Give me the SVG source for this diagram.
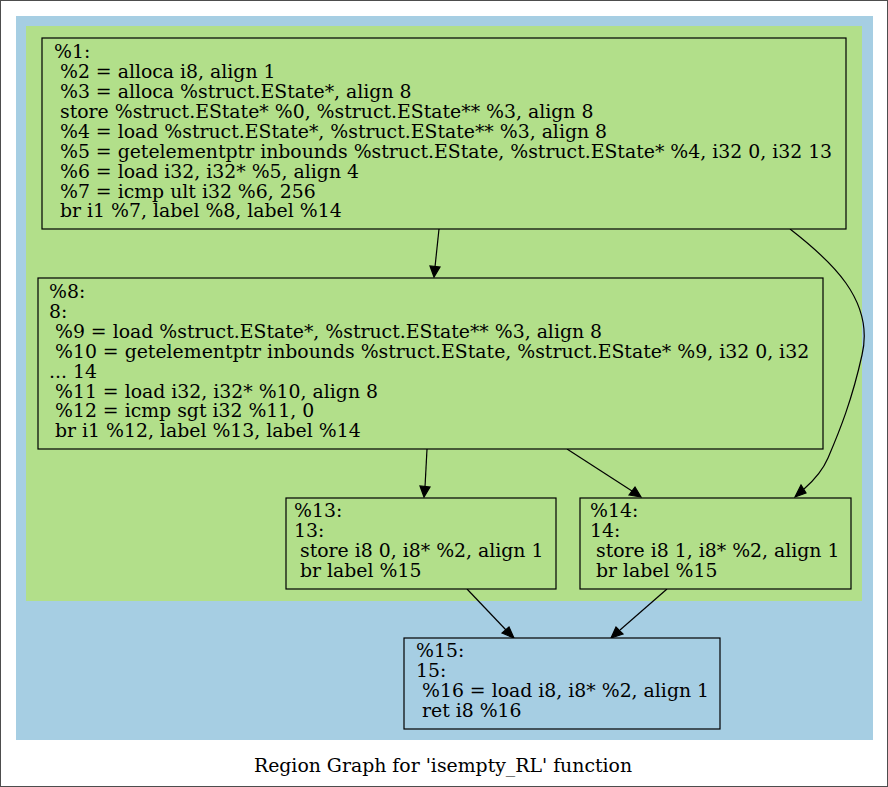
<svg xmlns="http://www.w3.org/2000/svg" width="888" height="787" viewBox="0 0 888 787">
<style>
text{font-family:"DejaVu Serif","Liberation Serif",serif;font-size:18.85px;fill:#000;white-space:pre}
.node rect{stroke:#000;stroke-width:1.2}
.g rect{fill:#b2df8a}
.b rect{fill:#a6cee3}
.edges path{fill:none;stroke:#000;stroke-width:1.2}
.edges polygon{fill:#000;stroke:#000;stroke-width:1.2}
</style>
<rect x="0.5" y="0.5" width="887" height="786" fill="#fff" stroke="#4d4d4d"/>
<rect x="16" y="16" width="857" height="724" fill="#a6cee3"/>
<rect x="26" y="26" width="836" height="575" fill="#b2df8a"/>
<g class="edges">
<path d="M439,229 L435,267"/><polygon points="430,266 434,277 440,267"/>
<path d="M790,229 C830,260 875,300 862,355 C852,400 840,430 828,458 C822,472 812,482 804,489"/><polygon points="801,485 795,497 806,493"/>
<path d="M427,449 L425,487"/><polygon points="420,486 424,497 430,487"/>
<path d="M567,449 L632,491"/><polygon points="629,495 641,497 635,487"/>
<path d="M467,589 L506,630"/><polygon points="502,633 514,638 509,627"/>
<path d="M667,589 L620,630"/><polygon points="616,627 611,638 623,634"/>
</g>
<g id="n1" class="node g"><rect x="42" y="38" width="804" height="191"/>
<text x="54" y="58">%1:</text>
<text x="54" y="78"> %2 = alloca i8, align 1</text>
<text x="54" y="98"> %3 = alloca %struct.EState*, align 8</text>
<text x="54" y="118"> store %struct.EState* %0, %struct.EState** %3, align 8</text>
<text x="54" y="138"> %4 = load %struct.EState*, %struct.EState** %3, align 8</text>
<text x="54" y="158"> %5 = getelementptr inbounds %struct.EState, %struct.EState* %4, i32 0, i32 13</text>
<text x="54" y="178"> %6 = load i32, i32* %5, align 4</text>
<text x="54" y="198"> %7 = icmp ult i32 %6, 256</text>
<text x="54" y="217"> br i1 %7, label %8, label %14</text>
</g>
<g id="n8" class="node g"><rect x="38" y="278" width="785" height="171"/>
<text x="49" y="298">%8:</text>
<text x="49" y="318">8:</text>
<text x="49" y="338"> %9 = load %struct.EState*, %struct.EState** %3, align 8</text>
<text x="49" y="358"> %10 = getelementptr inbounds %struct.EState, %struct.EState* %9, i32 0, i32</text>
<text x="49" y="378">... 14</text>
<text x="49" y="398"> %11 = load i32, i32* %10, align 8</text>
<text x="49" y="417"> %12 = icmp sgt i32 %11, 0</text>
<text x="49" y="437"> br i1 %12, label %13, label %14</text>
</g>
<g id="n13" class="node g"><rect x="286" y="498" width="270" height="91"/>
<text x="294" y="517">%13:</text>
<text x="294" y="537">13:</text>
<text x="294" y="557"> store i8 0, i8* %2, align 1</text>
<text x="294" y="577"> br label %15</text>
</g>
<g id="n14" class="node g"><rect x="580" y="498" width="271" height="91"/>
<text x="590" y="517">%14:</text>
<text x="590" y="537">14:</text>
<text x="590" y="557"> store i8 1, i8* %2, align 1</text>
<text x="590" y="577"> br label %15</text>
</g>
<g id="n15" class="node b"><rect x="404" y="638" width="316" height="91"/>
<text x="416" y="657">%15:</text>
<text x="416" y="677">15:</text>
<text x="416" y="697"> %16 = load i8, i8* %2, align 1</text>
<text x="416" y="717"> ret i8 %16</text>
</g>
<text x="443" y="772" text-anchor="middle">Region Graph for 'isempty_RL' function</text>
</svg>
